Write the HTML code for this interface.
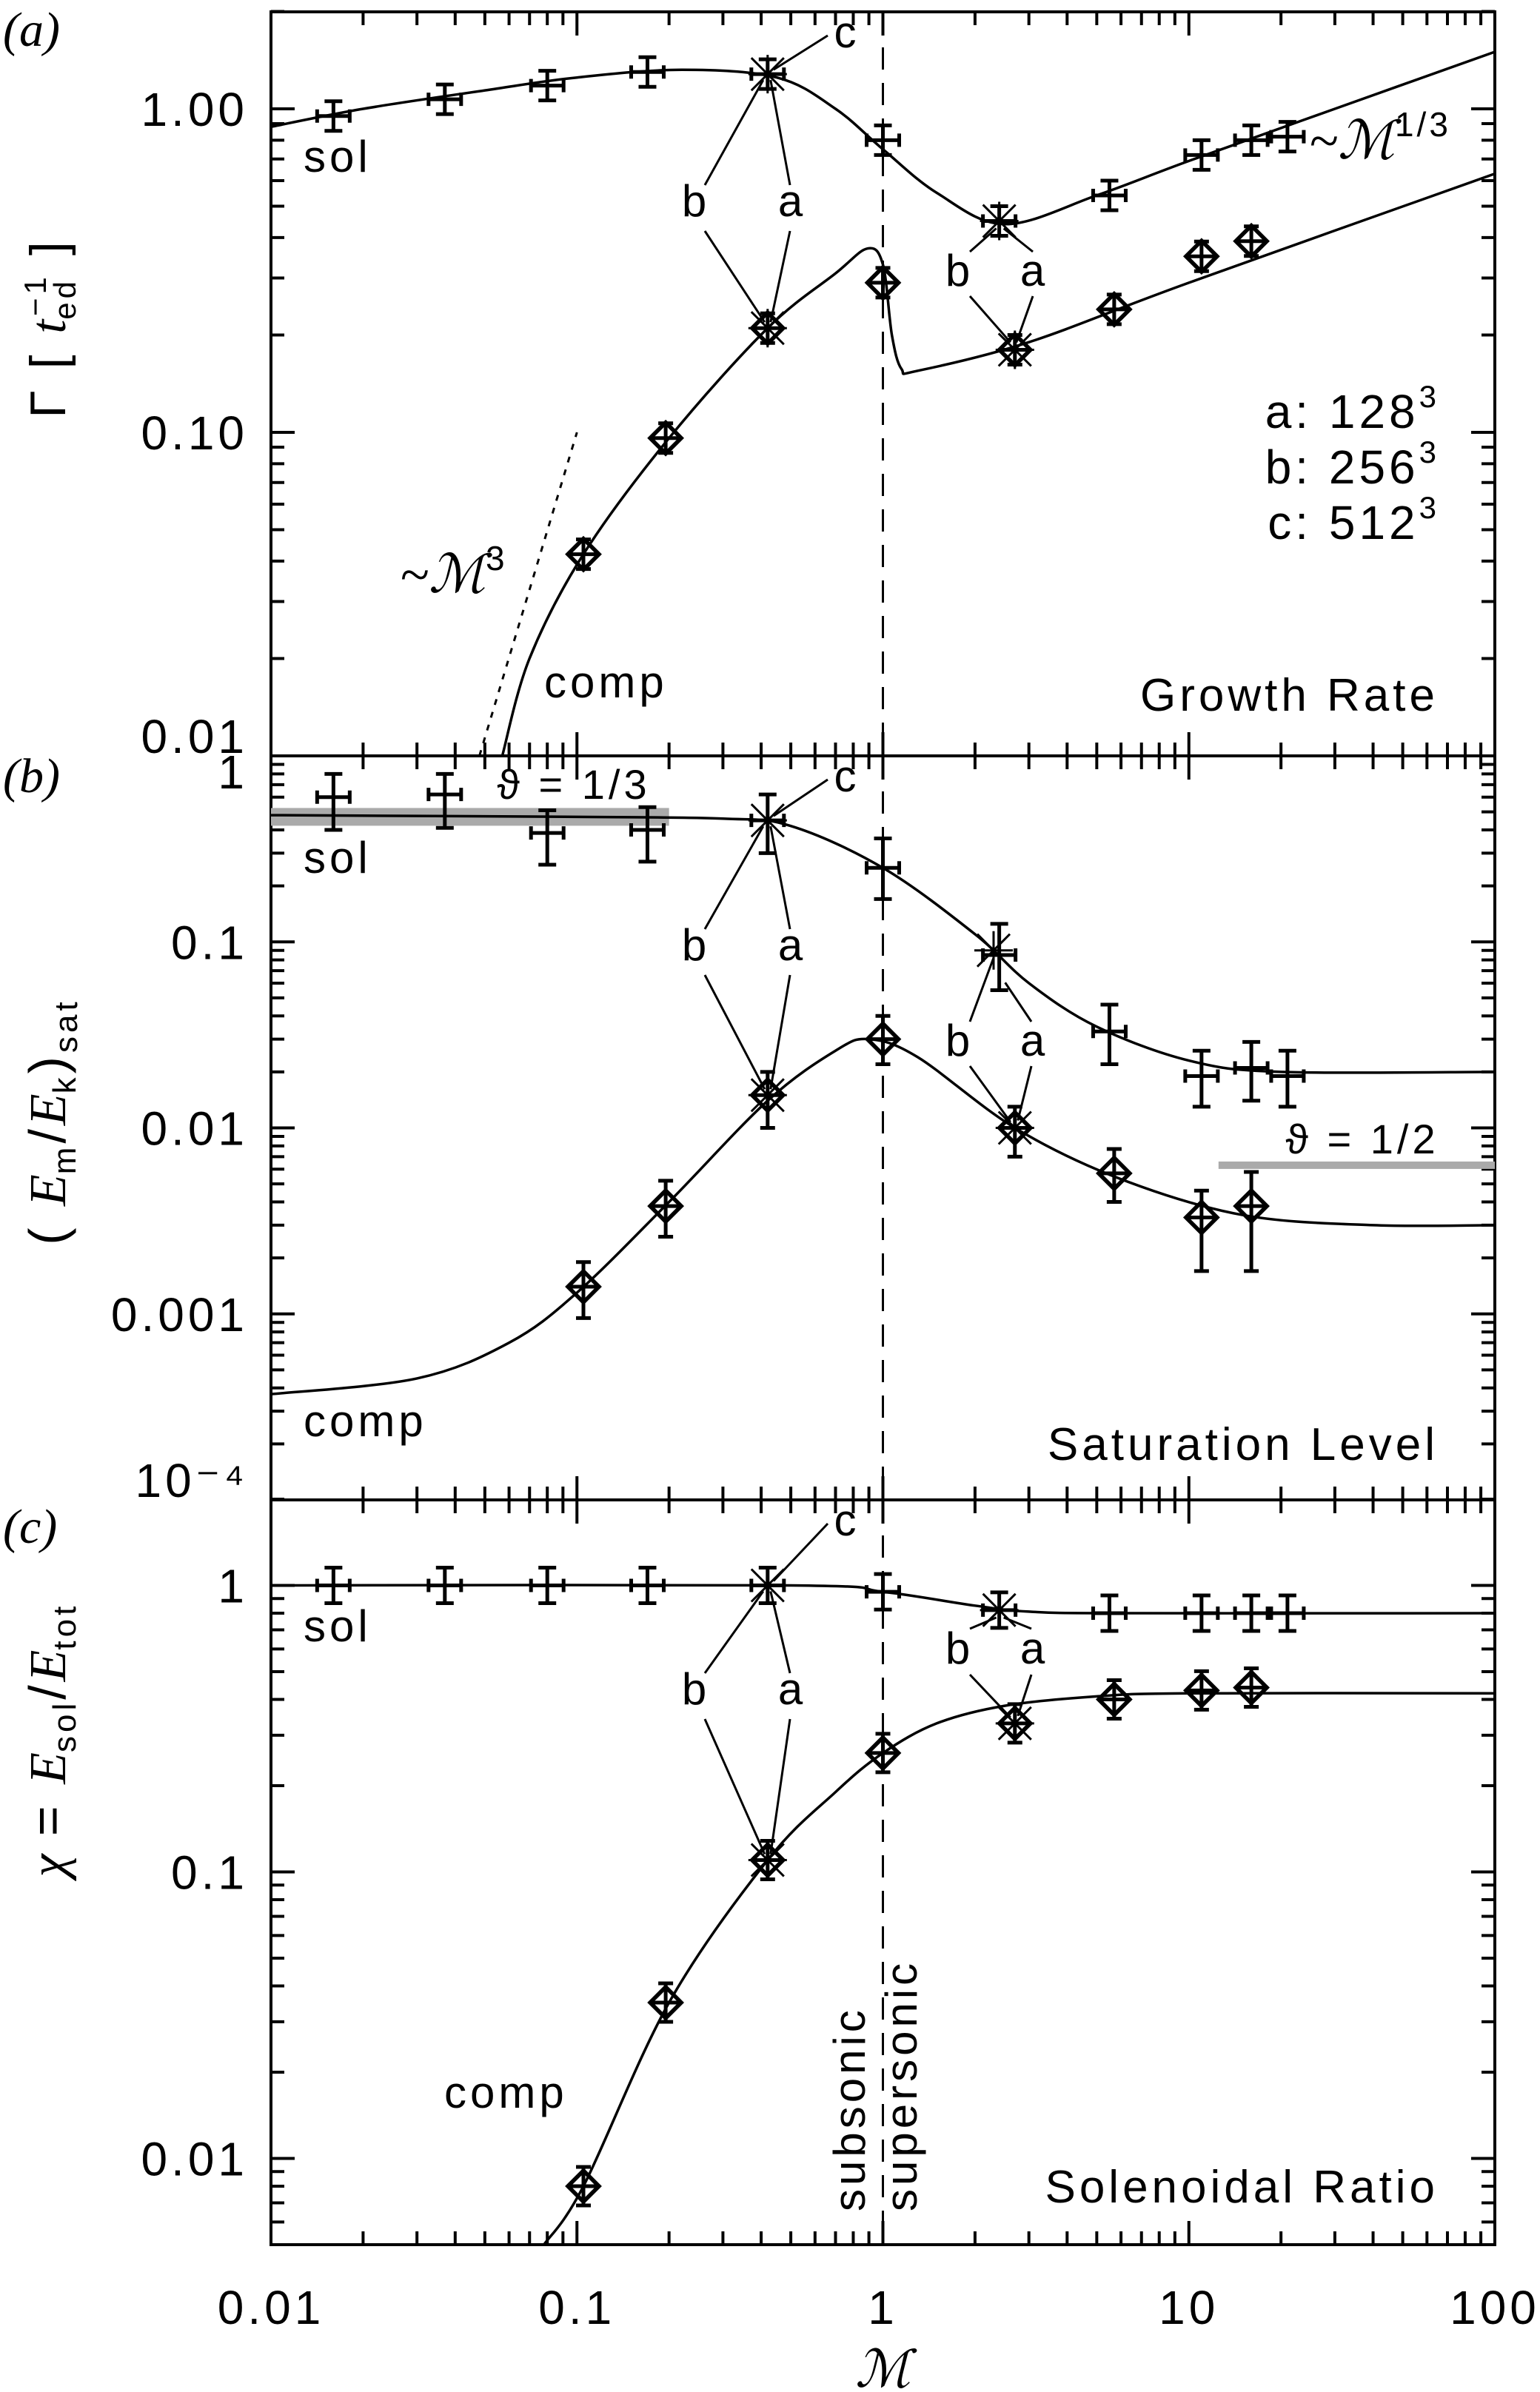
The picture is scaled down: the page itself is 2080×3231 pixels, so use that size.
<!DOCTYPE html>
<html><head><meta charset="utf-8">
<style>
html,body{margin:0;padding:0;background:#fff;}
svg{display:block;}
text{font-family:"Liberation Sans",sans-serif;fill:#000;letter-spacing:5px;}
.serif{font-family:"Liberation Serif",serif;letter-spacing:0;}
</style></head>
<body>
<svg id="fig" width="2080" height="3231" viewBox="0 0 2080 3231" xmlns="http://www.w3.org/2000/svg"></svg>
<script>
// ---- data ----
const machSol = [0.016,0.037,0.08,0.17,0.42,1.0,2.4,5.5,11,16,21];
const machComp = [0.105,0.195,0.42,1.0,2.7,5.7,11,16];
// panel a: growth rate
const growthSol = [0.95,1.07,1.18,1.30,1.28,0.80,0.45,0.54,0.72,0.80,0.82];
const growthComp = [0.042,0.096,0.21,0.29,0.18,0.24,0.35,0.39];
// panel b: saturation level (value, lo, hi)
const satSol = [0.60,0.62,0.385,0.40,0.45,0.25,0.085,0.033,0.019,0.021,0.019];
const satSolLo = [0.40,0.41,0.26,0.27,0.30,0.17,0.055,0.022,0.013,0.014,0.013];
const satSolHi = [0.80,0.80,0.51,0.53,0.62,0.36,0.125,0.046,0.026,0.029,0.026];
const satComp = [0.0014,0.0038,0.015,0.03,0.010,0.0057,0.0033,0.0038];
const satCompLo = [0.00095,0.0026,0.010,0.022,0.007,0.004,0.0017,0.0017];
const satCompHi = [0.0019,0.0052,0.020,0.040,0.013,0.0077,0.0046,0.0058];
// panel c: solenoidal ratio
const ratioSol = [1.0,1.0,1.0,1.0,1.0,0.95,0.82,0.80,0.80,0.80,0.80];
const ratioComp = [0.008,0.035,0.11,0.26,0.33,0.40,0.43,0.44];
// fit curves (control points)
const fitAsolM = [0.01,0.02,0.05,0.1,0.22,0.45,0.7,1.0,1.5,2.5,5,10,30,100];
const fitAsolV = [0.88,1.0,1.14,1.25,1.32,1.25,1.0,0.75,0.55,0.44,0.54,0.69,1.0,1.5];
const fitAcompM = [0.057,0.07,0.105,0.2,0.42,0.7,0.89,1.0,1.07,1.15,1.3,3,10,100];
const fitAcompV = [0.01,0.02,0.042,0.096,0.21,0.31,0.37,0.33,0.2,0.157,0.155,0.19,0.29,0.63];
const fitBsolM = [0.01,0.1,0.3,0.5,1,2,3,5,10,20,100];
const fitBsolV = [0.48,0.47,0.46,0.42,0.25,0.11,0.06,0.035,0.023,0.02,0.02];
const fitBcompM = [0.01,0.03,0.06,0.1,0.2,0.42,0.7,0.9,1.3,2.7,6,15,40,100];
const fitBcompV = [0.00037,0.00045,0.0007,0.0013,0.004,0.014,0.026,0.03,0.024,0.01,0.0053,0.0034,0.003,0.003];
const fitCsolM = [0.01,0.5,1,2,3,6,100];
const fitCsolV = [1,1,0.95,0.85,0.81,0.80,0.80];
const fitCcompM = [0.078,0.105,0.2,0.42,0.7,1,1.5,2.5,5,10,100];
const fitCcompV = [0.005,0.008,0.035,0.11,0.19,0.26,0.33,0.38,0.41,0.42,0.42];
const xTicks = [0.01,0.1,1,10,100];
const xTickLabels = ["0.01","0.1","1","10","100"];

// ---- geometry ----
const L=366,R=2019,DEC=413.25;
const X = m => L + (Math.log10(m)+2)*DEC;
const panels = [
 {name:'a',top:16,bot:1021,lo:0.01,dec:437,ticks:[1,0.1,0.01],labels:["1.00","0.10","0.01"]},
 {name:'b',top:1021,bot:2026,lo:1e-4,dec:251.25,ticks:[1,0.1,0.01,0.001,1e-4],labels:["1","0.1","0.01","0.001","10⁻⁴"]},
 {name:'c',top:2026,bot:3032,lo:0.005,dec:387,ticks:[1,0.1,0.01],labels:["1","0.1","0.01"]}
];
panels.forEach(p=>{ p.Y = v => p.bot - (Math.log10(v)-Math.log10(p.lo))*p.dec; });
const svg=document.getElementById('fig');
const NS='http://www.w3.org/2000/svg';
function el(tag,attrs,parent){const e=document.createElementNS(NS,tag);for(const k in attrs)e.setAttribute(k,attrs[k]);(parent||svg).appendChild(e);return e;}
function txt(s,x,y,size,anchor,parent,extra){const t=el('text',Object.assign({x:x,y:y,'font-size':size,'text-anchor':anchor||'start'},extra||{}),parent);t.textContent=s;return t;}

const defs=el('defs',{});
panels.forEach(p=>{const c=el('clipPath',{id:'clip'+p.name},defs);el('rect',{x:L,y:p.top,width:R-L,height:p.bot-p.top},c);});

function curve(ms,vs,p,g,w,dash){
  const pts=ms.map((m,i)=>[X(m),p.Y(vs[i])]);
  let d='M'+pts[0][0].toFixed(1)+','+pts[0][1].toFixed(1);
  for(let i=0;i<pts.length-1;i++){
    const p0=pts[Math.max(0,i-1)],p1=pts[i],p2=pts[i+1],p3=pts[Math.min(pts.length-1,i+2)];
    const c1=[p1[0]+(p2[0]-p0[0])/6,p1[1]+(p2[1]-p0[1])/6];
    const c2=[p2[0]-(p3[0]-p1[0])/6,p2[1]-(p3[1]-p1[1])/6];
    d+=' C'+c1.map(v=>v.toFixed(1)).join(',')+' '+c2.map(v=>v.toFixed(1)).join(',')+' '+p2.map(v=>v.toFixed(1)).join(',');
  }
  const path=el('path',{d:d,fill:'none',stroke:'#000','stroke-width':w||3.5},g);
  if(dash)path.setAttribute('stroke-dasharray',dash);
  return path;
}
function solMarker(g,x,y,ylo,yhi){
  const gg=el('g',{},g);
  
  
  el('path',{d:`M${x-22},${y}H${x+22}M${x-22},${y-9}V${y+9}M${x+22},${y-9}V${y+9}M${x},${ylo}V${yhi}M${x-12},${ylo}H${x+12}M${x-12},${yhi}H${x+12}`,stroke:'#000','stroke-width':5,fill:'none'},gg);
}
function compMarker(g,x,y,ylo,yhi){
  const gg=el('g',{},g);
  
  
  const s=21;
  el('path',{d:`M${x},${y-s}L${x+s},${y}L${x},${y+s}L${x-s},${y}Z`,stroke:'#000','stroke-width':5.5,fill:'none'},gg);
  el('path',{d:`M${x-s},${y}H${x+s}M${x},${ylo}V${yhi}M${x-10},${ylo}H${x+10}M${x-10},${yhi}H${x+10}`,stroke:'#000','stroke-width':5,fill:'none'},gg);
}
function star(g,x,y){
  el('path',{d:`M${x-22},${y-22}L${x+22},${y+22}M${x-22},${y+22}L${x+22},${y-22}M${x},${y-26}V${y+26}M${x-26},${y}H${x+26}`,stroke:'#000','stroke-width':3,fill:'none'},g);
}

// ---- panels ----
panels.forEach((p,pi)=>{
  const g=el('g',{});
  
  
  const fr=el('rect',{x:L,y:p.top,width:R-L,height:p.bot-p.top,fill:'none',stroke:'#000','stroke-width':4},g);
  
  
  let d='';
  for(let e=-2;e<2;e++)for(let k=1;k<10;k++){
    const x=X(k*Math.pow(10,e)); const len=k===1?32:18;
    d+=`M${x},${p.bot}V${p.bot-len}M${x},${p.top}V${p.top+len}`;
  }
  const e0=Math.floor(Math.log10(p.lo)),e1=Math.ceil(Math.log10(p.lo)+(p.bot-p.top)/p.dec);
  for(let e=e0;e<=e1;e++)for(let k=1;k<10;k++){
    const v=k*Math.pow(10,e); const y=p.Y(v);
    if(y<p.top-1||y>p.bot+1)continue;
    const len=k===1?32:18;
    d+=`M${L},${y}H${L+len}M${R},${y}H${R-len}`;
  }
  const tk=el('path',{d:d,stroke:'#000','stroke-width':4,fill:'none'},g);
  
  
  p.ticks.forEach((v,i)=>{
    let y=p.Y(v)+23; if(y>p.bot-10) y=p.bot-4; if(pi===1&&v===1) y=p.top+44;
    const t=txt(p.labels[i],335,y,64,'end',g);
    
    
  });
  const dl=el('line',{x1:X(1),x2:X(1),y1:p.top,y2:p.bot,stroke:'#000','stroke-width':3,'stroke-dasharray':'30,18'},g);
  
  
  p.g=el('g',{'clip-path':'url(#clip'+p.name+')'},g);
});

// panel (a)
{
  const p=panels[0],g=p.g;
  const dt=el('line',{x1:X(0.048),y1:p.Y(0.01),x2:X(0.1),y2:p.Y(0.1),stroke:'#000','stroke-width':3,'stroke-dasharray':'8,10'},g);
  
  
  curve(fitAsolM,fitAsolV,p,g);
  curve(fitAcompM,fitAcompV,p,g);
  machSol.forEach((m,i)=>solMarker(g,X(m),p.Y(growthSol[i]),p.Y(growthSol[i])-20,p.Y(growthSol[i])+20));
  machComp.forEach((m,i)=>compMarker(g,X(m),p.Y(growthComp[i]),p.Y(growthComp[i])-20,p.Y(growthComp[i])+20));
  star(g,X(0.42),p.Y(growthSol[4]));star(g,X(0.42),p.Y(growthComp[2]));
  star(g,X(2.4),p.Y(growthSol[6]));star(g,X(2.7),p.Y(growthComp[4]));
}
// panel (b)
{
  const p=panels[1],g=p.g;
  const b1=el('rect',{x:L,y:p.Y(0.47)-12,width:X(0.2)-L,height:24,fill:'#aaa'},g);
  
  
  const b2=el('rect',{x:X(12.5),y:p.Y(0.0063)-5,width:R-X(12.5),height:10,fill:'#aaa'},g);
  
  
  curve(fitBsolM,fitBsolV,p,g);
  curve(fitBcompM,fitBcompV,p,g);
  machSol.forEach((m,i)=>solMarker(g,X(m),p.Y(satSol[i]),p.Y(satSolHi[i]),p.Y(satSolLo[i])));
  machComp.forEach((m,i)=>compMarker(g,X(m),p.Y(satComp[i]),p.Y(satCompHi[i]),p.Y(satCompLo[i])));
  star(g,X(0.42),p.Y(satSol[4]));star(g,X(0.42),p.Y(satComp[2]));
  star(g,X(2.3),p.Y(0.09));star(g,X(2.7),p.Y(satComp[4]));
}
// panel (c)
{
  const p=panels[2],g=p.g;
  curve(fitCsolM,fitCsolV,p,g);
  curve(fitCcompM,fitCcompV,p,g);
  machSol.forEach((m,i)=>solMarker(g,X(m),p.Y(ratioSol[i]),p.Y(ratioSol[i])-24,p.Y(ratioSol[i])+24));
  machComp.forEach((m,i)=>compMarker(g,X(m),p.Y(ratioComp[i]),p.Y(ratioComp[i])-26,p.Y(ratioComp[i])+26));
  star(g,X(0.42),p.Y(ratioSol[4]));star(g,X(0.42),p.Y(ratioComp[2]));
  star(g,X(2.4),p.Y(ratioSol[6]));star(g,X(2.7),p.Y(ratioComp[4]));
}

xTicks.forEach((m,i)=>{
  const t=txt(xTickLabels[i],X(m),3139,64,'middle');
  
  
});
const xt=txt('ℳ',X(1),3224,70,'middle',null,{class:'serif','font-style':'italic'});



function lab(s,x,y,size,name,anchor,extra){const t=txt(s,x,y,size,anchor||'middle',null,extra);return t;}
function ln(x1,y1,x2,y2){const l=el('line',{x1:x1,y1:y1,x2:x2,y2:y2,stroke:'#000','stroke-width':3});}
const xq=X(0.42);
lab('(a)',4,62,66,'panel-a-label','start',{class:'serif','font-style':'italic'});
lab('(b)',4,1070,66,'panel-b-label','start',{class:'serif','font-style':'italic'});
lab('(c)',4,2084,66,'panel-c-label','start',{class:'serif','font-style':'italic'});
[[0,panels[0]],[1,panels[1]],[2,panels[2]]].forEach(([i,p])=>{
  const ys=[growthSol[4],satSol[4],ratioSol[4]][i], yc=[growthComp[2],satComp[2],ratioComp[2]][i];
  const top=[232,1179,2217][i];
  const off=[0,1021-16,2026-16][i];
  lab('sol',410,top,60,'sol-label','start');
  lab('b',940,292+off,60,'label-b');lab('a',1070,292+off,60,'label-a');
  lab('c',1144,64+off,60,'label-c');
  ln(1118,48+off,xq+8,p.Y(ys)-6);
  ln(952,250+off,xq-6,p.Y(ys)+8);ln(952,312+off,xq-4,p.Y(yc)-8);
  ln(1067,250+off,xq+4,p.Y(ys)+8);ln(1067,312+off,xq+4,p.Y(yc)-8);
});
lab('b',1296,386,60,'label-b');lab('a',1397,386,60,'label-a');
ln(1310,340,X(2.4)-4,panels[0].Y(growthSol[6])+10);ln(1310,400,X(2.7)-6,panels[0].Y(growthComp[4])-10);
ln(1395,340,X(2.4)+6,panels[0].Y(growthSol[6])+10);ln(1395,400,X(2.7)+2,panels[0].Y(growthComp[4])-10);
lab('b',1296,1426,60,'label-b');lab('a',1397,1426,60,'label-a');
ln(1310,1380,X(2.3),panels[1].Y(0.09)+10);ln(1310,1440,X(2.7)-6,panels[1].Y(satComp[4])-8);
ln(1393,1380,X(2.4)+8,panels[1].Y(0.065)+8);ln(1393,1440,X(2.7)+4,panels[1].Y(satComp[4])-10);
lab('b',1296,2247,60,'label-b');lab('a',1397,2247,60,'label-a');
ln(1310,2200,X(2.4)-4,panels[2].Y(ratioSol[6])+10);ln(1310,2262,X(2.7)-6,panels[2].Y(ratioComp[4])-8);
ln(1393,2200,X(2.4)+6,panels[2].Y(ratioSol[6])+10);ln(1393,2262,X(2.7)+4,panels[2].Y(ratioComp[4])-10);

{
  const t=lab('~ℳ',1768,214,72,'m13-label','start',{class:'serif','font-style':'italic'});
  const s=el('tspan',{dy:-30,'font-size':46,'font-style':'normal',style:'font-family:Liberation Sans;letter-spacing:4px'},t);s.textContent='1/3';
}
{
  const t=lab('~ℳ',540,800,72,'m3-label','start',{class:'serif','font-style':'italic'});
  const s=el('tspan',{dy:-30,'font-size':46,'font-style':'normal',style:'font-family:Liberation Sans'},t);s.textContent='3';
}
['a: 128','b: 256','c: 512'].forEach((s,i)=>{
  const t=lab(s,1945,578+i*75,64,'legend-entry','end');
  const sp=el('tspan',{dy:-28,'font-size':42},t);sp.textContent='3';
});
lab('comp',735,942,60,'comp-label','start');
lab('Growth Rate',1943,960,62,'panel-title-growth','end');
lab('ϑ = 1/3',775,1079,56,'theta-one-third-label','middle',{fill:'#999'});
lab('ϑ = 1/2',1840,1558,56,'theta-one-half-label','middle',{fill:'#999'});
lab('comp',410,1940,60,'comp-label','start');
lab('Saturation Level',1943,1972,62,'panel-title-saturation','end');
lab('comp',600,2847,60,'comp-label','start');
lab('Solenoidal Ratio',1943,2975,62,'panel-title-ratio','end');
lab('subsonic',1168,2987,60,'subsonic-label','start',{transform:'rotate(-90 1168 2987)'});
lab('supersonic',1238,2987,60,'supersonic-label','start',{transform:'rotate(-90 1238 2987)'});

{
  const t=lab('',88,443,68,'y-axis-title-a','middle',{transform:'rotate(-90 88 443)'});
  const a=el('tspan',{},t);a.textContent='Γ [ ';
  const b=el('tspan',{'font-style':'italic',class:'serif'},t);b.textContent='t';
  const c=el('tspan',{dy:14,'font-size':42},t);c.textContent='ed';
  const c2=el('tspan',{dy:-40,dx:-52,'font-size':42},t);c2.textContent='−1';
  const d=el('tspan',{dy:26},t);d.textContent=' ]';
}
{
  const t=lab('',88,1515,70,'y-axis-title-b','middle',{transform:'rotate(-90 88 1515)'});
  const parts=[['( ',{}],['E',{'font-style':'italic',class:'serif'}],['m',{dy:14,'font-size':44}],['/',{dy:-14}],['E',{'font-style':'italic',class:'serif'}],['k',{dy:14,'font-size':44}],[')',{dy:-14}],['sat',{dy:16,'font-size':44}]];
  parts.forEach(([s,a])=>{const sp=el('tspan',a,t);sp.textContent=s;});
}
{
  const t=lab('',88,2350,70,'y-axis-title-c','middle',{transform:'rotate(-90 88 2350)'});
  const parts=[['χ',{class:'serif','font-style':'italic'}],[' = ',{}],['E',{'font-style':'italic',class:'serif'}],['sol',{dy:14,'font-size':44}],['/',{dy:-14}],['E',{'font-style':'italic',class:'serif'}],['tot',{dy:14,'font-size':44}]];
  parts.forEach(([s,a])=>{const sp=el('tspan',a,t);sp.textContent=s;});
}
</script>
</body></html>
